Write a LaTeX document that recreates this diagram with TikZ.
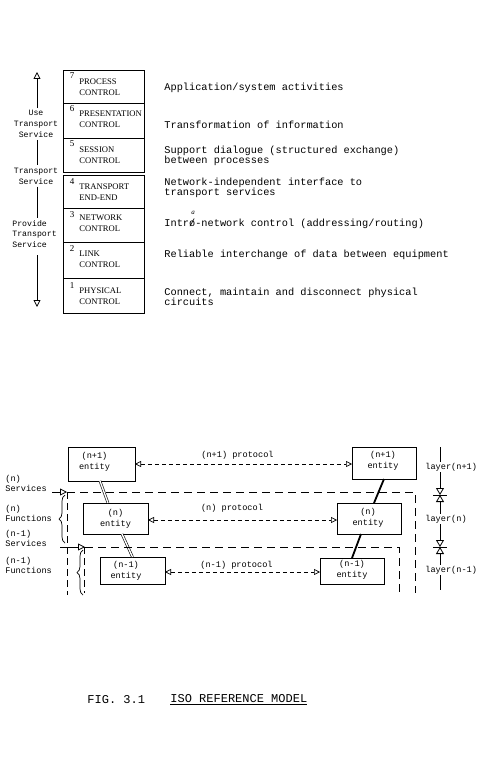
\documentclass[tikz,border=0pt]{standalone}
\usepackage{fontspec}
\setmonofont{Liberation Mono}
\newfontfamily\layerserif{Liberation Serif}
\usetikzlibrary{arrows.meta,decorations.pathreplacing}

\newcommand{\dutyfont}{\ttfamily\fontsize{10.3}{10.4}\selectfont}
\newcommand{\sidefont}{\ttfamily\fontsize{8.2}{10.8}\selectfont}
\newcommand{\entfont}{\ttfamily\fontsize{8.6}{10.8}\selectfont}
\newcommand{\layfont}{\layerserif\fontsize{8.6}{10.8}\selectfont}
\newcommand{\laynumfont}{\layerserif\fontsize{9}{9}\selectfont}
\newcommand{\figfont}{\ttfamily\fontsize{12}{14}\selectfont}

\tikzset{
  layerbox/.style={draw, line width=1pt, minimum width=81pt, inner sep=0pt, outer sep=0pt},
  layername/.style={font=\layfont, align=left, anchor=west, inner sep=0pt},
  layernum/.style={font=\laynumfont, inner sep=0pt},
  duty/.style={font=\dutyfont, align=left, anchor=west, inner sep=0pt},
  side/.style={font=\sidefont, inner sep=2pt},
  openhead/.style={-{Triangle[open, length=7pt, width=7pt]}},
  entbox/.style={draw, line width=1pt, inner sep=0pt, outer sep=0pt},
  enttext/.style={font=\entfont, align=center, inner sep=0pt},
  lbl/.style={font=\entfont, align=left, anchor=west, inner sep=1pt},
  svcline/.style={line width=0.9pt, dash pattern=on 8pt off 5pt},
  protline/.style={line width=0.7pt, dash pattern=on 4pt off 3pt,
    {Triangle[open, length=6pt, width=6pt]}-{Triangle[open, length=6pt, width=6pt]}},
  bowhead/.style={-{Triangle[open, length=7pt, width=8pt]}},
  wire/.style={double, double distance=1.4pt, line width=0.6pt},
  bar/.style={line width=1.8pt},
  curly/.style={decorate, decoration={brace, amplitude=6pt}, line width=0.7pt},
}

\begin{document}
\begin{tikzpicture}[x=1pt, y=-1pt, line width=0.8pt]
    \fill[white] (0,0) rectangle (493,778);
    \useasboundingbox (0,0) rectangle (493,778);

    % LAYER STACK
    \node[layerbox, minimum height=33pt] (lay7) at (103.5,87.5) {};
    \node[layerbox, minimum height=35pt] (lay6) at (103.5,121.5) {};
    \node[layerbox, minimum height=34pt] (lay5) at (103.5,156) {};
    \node[layerbox, minimum height=33pt] (lay4) at (103.5,191.5) {};
    \node[layerbox, minimum height=34pt] (lay3) at (103.5,225) {};
    \node[layerbox, minimum height=36pt] (lay2) at (103.5,260) {};
    \node[layerbox, minimum height=35pt] (lay1) at (103.5,295.5) {};

    % Layer numbers
    \node[layernum] (num7) at ([xshift=9pt, yshift=-5pt]lay7.north west) {7};
    \node[layernum] (num6) at ([xshift=9pt, yshift=-5pt]lay6.north west) {6};
    \node[layernum] (num5) at ([xshift=9pt, yshift=-5pt]lay5.north west) {5};
    \node[layernum] (num4) at ([xshift=9pt, yshift=-7pt]lay4.north west) {4};
    \node[layernum] (num3) at ([xshift=9pt, yshift=-7pt]lay3.north west) {3};
    \node[layernum] (num2) at ([xshift=9pt, yshift=-7pt]lay2.north west) {2};
    \node[layernum] (num1) at ([xshift=9pt, yshift=-8pt]lay1.north west) {1};

    % Layer names
    \node[layername] (name7) at (79,87.5) {PROCESS\\CONTROL};
    \node[layername] (name6) at (79,119) {PRESENTATION\\CONTROL};
    \node[layername] (name5) at (79,155) {SESSION\\CONTROL};
    \node[layername] (name4) at (79,192) {TRANSPORT\\END-END};
    \node[layername] (name3) at (79,223.5) {NETWORK\\CONTROL};
    \node[layername] (name2) at (79,259.5) {LINK\\CONTROL};
    \node[layername] (name1) at (79,296) {PHYSICAL\\CONTROL};

    % Layer duties
    \node[duty] (duty7) at (164,88) {Application/system activities};
    \node[duty] (duty6) at (164,125) {Transformation of information};
    \node[duty] (duty5) at (164,156) {Support dialogue (structured exchange)\\between processes};
    \node[duty] (duty4) at (164,188) {Network-independent interface to\\transport services};
    \node[duty] (duty3) at (164,224) {Intr\rlap{/}o-network control (addressing/routing)};
    \node[font=\layerserif\itshape\fontsize{7}{7}\selectfont, inner sep=0pt] (fix3) at (193,213) {a};
    \node[duty] (duty2) at (164,255) {Reliable interchange of data between equipment};
    \node[duty] (duty1) at (164,297) {Connect, maintain and disconnect physical\\circuits};

    % USE / PROVIDE ARROW
    \coordinate (uptip) at (37,72);
    \coordinate (dntip) at (37,307);
    \node[side, align=center] (usesvc) at (36,124) {Use\\Transport\\Service};
    \node[side, align=center] (tsvc) at (36,176) {Transport\\Service};
    \node[side, align=left, anchor=west] (psvc) at (10,234) {Provide\\Transport\\Service};
    \draw[openhead] (usesvc.north -| uptip) -- (uptip);
    \draw (usesvc.south -| uptip) -- (tsvc.north -| uptip);
    \draw (tsvc.south -| uptip) -- (psvc.north -| uptip);
    \draw[openhead, shorten <=5pt] (psvc.south -| dntip) -- (dntip);

    % ENTITIES
    \node[entbox, minimum width=67pt, minimum height=34pt] (np1L) at (101.5,464) {};
    \node[entbox, minimum width=64pt, minimum height=32pt] (np1R) at (384,463) {};
    \node[entbox, minimum width=65pt, minimum height=31pt] (nL) at (115.5,518.5) {};
    \node[entbox, minimum width=64pt, minimum height=31pt] (nR) at (369,518.5) {};
    \node[entbox, minimum width=65pt, minimum height=27pt] (nm1L) at (132.5,570.5) {};
    \node[entbox, minimum width=64pt, minimum height=26pt] (nm1R) at (352,571) {};
    \node[enttext] (np1Lt) at (94.5,461.5) {(n+1)\\entity};
    \node[enttext] (np1Rt) at (383,461) {(n+1)\\entity};
    \node[enttext] (nLt) at (115.5,518.5) {(n)\\entity};
    \node[enttext] (nRt) at (368,518) {(n)\\entity};
    \node[enttext] (nm1Lt) at (126,570.5) {(n-1)\\entity};
    \node[enttext] (nm1Rt) at (352,570) {(n-1)\\entity};

    % Protocols between peer entities
    \draw[protline] (np1L.east) -- (np1L.east -| np1R.west);
    \draw[protline] ([yshift=-1.5pt]nL.east) -- ([yshift=-1.5pt]nL.east -| nR.west);
    \draw[protline] ([yshift=-1.5pt]nm1L.east) -- ([yshift=-1.5pt]nm1L.east -| nm1R.west);
    \node[enttext] (prot1) at (237.5,455) {(n+1) protocol};
    \node[enttext] (prot2) at (232,508) {(n) protocol};
    \node[enttext] (prot3) at (236.5,565) {(n-1) protocol};

    % Links down the stack
    \draw[wire] ([xshift=-1.5pt]np1L.south) -- ([xshift=-7.5pt]nL.north);
    \draw[wire] ([xshift=6.5pt]nL.south) -- (nm1L.north);
    \draw[bar] (np1R.south) -- ([xshift=5pt]nR.north);
    \draw[bar] ([xshift=-8pt]nR.south) -- (nm1R.north);

    % SERVICE BOUNDARIES
    \coordinate (nfeed) at (52,492);
    \coordinate (nsvcL) at (67,492);
    \coordinate (nsvcR) at (415,492);
    \coordinate (nsvcB) at (415,593);
    \coordinate (nsvcLB) at (67,595);
    \coordinate (m1feed) at (60,547);
    \coordinate (m1svcL) at (85,547);
    \coordinate (m1svcR) at (399,547);
    \coordinate (m1svcB) at (399,595);
    \coordinate (m1svcLB) at (84,593);
    \draw[svcline] (nsvcL) -- (nsvcR) -- (nsvcB);
    \draw[svcline, dash pattern=on 7pt off 4pt] (nsvcL) -- (nsvcLB);
    \draw[svcline] (m1svcL) -- (m1svcR) -- (m1svcB);
    \draw[svcline, dash pattern=on 7pt off 4pt] (m1svcL -| m1svcLB) -- (m1svcLB);
    \draw[openhead] (nfeed) -- (nsvcL);
    \draw[openhead] (m1feed) -- (m1svcL);

    % Braces for functions
    \draw[curly] (65,543) -- (65,495);
    \draw[curly] (83,595) -- (83,550);

    % Left labels
    \node[lbl] (nsvc) at (4,483.5) {(n)\\Services};
    \node[lbl] (nfun) at (4,513.5) {(n)\\Functions};
    \node[lbl] (m1svc) at (4,538.5) {(n-1)\\Services};
    \node[lbl] (m1fun) at (4,565.5) {(n-1)\\Functions};

    % LAYER MARKS
    \coordinate (ltop) at (440,447);
    \coordinate (bow1) at (440,495);
    \coordinate (bow2) at (440,547);
    \coordinate (lbot) at (440,590);
    \node[lbl] (lyr1) at (424,467) {layer(n+1)};
    \node[lbl] (lyr2) at (424,519) {layer(n)};
    \node[lbl] (lyr3) at (424,570) {layer(n-1)};
    \draw (ltop) -- (lyr1.north -| ltop);
    \draw[bowhead] (lyr1.south -| bow1) -- (bow1);
    \draw[bowhead] (lyr2.north -| bow1) -- (bow1);
    \draw ([xshift=-7pt]bow1) -- ([xshift=7pt]bow1);
    \draw[bowhead] (lyr2.south -| bow2) -- (bow2);
    \draw[bowhead] (lyr3.north -| bow2) -- (bow2);
    \draw ([xshift=-7pt]bow2) -- ([xshift=7pt]bow2);
    \draw (lyr3.south -| lbot) -- (lbot);

    % CAPTION
    \node[font=\figfont, anchor=west, inner sep=0pt] (figno) at (87,700) {FIG. 3.1};
    \node[font=\figfont, anchor=west, inner sep=0pt] (figtitle) at (170,700) {\underline{ISO REFERENCE MODEL}};
\end{tikzpicture}
\end{document}
